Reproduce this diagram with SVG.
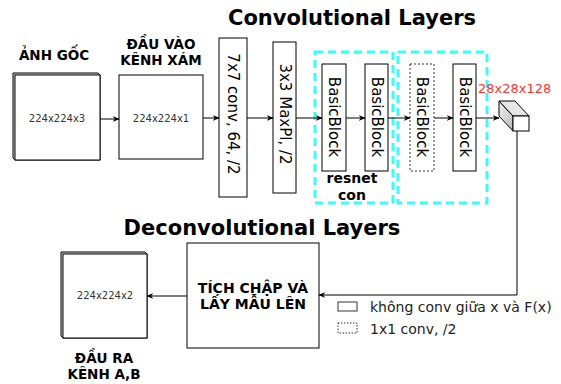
<svg xmlns="http://www.w3.org/2000/svg" width="561" height="384" viewBox="0 0 561 384">
<defs>
<marker id="arr" viewBox="0 0 10 10" refX="9" refY="5" markerWidth="7" markerHeight="7" markerUnits="userSpaceOnUse" orient="auto">
<path d="M0,1 L10,5 L0,9 L3,5 Z" fill="#000"/>
</marker>
<linearGradient id="side" x1="0" y1="0" x2="1" y2="1">
<stop offset="0" stop-color="#f2f2f2"/>
<stop offset="1" stop-color="#b8b8b8"/>
</linearGradient>
</defs>
<style>
text{font-family:"DejaVu Sans",Verdana,sans-serif;fill:#000}
.box{fill:#fff;stroke:#000;stroke-width:1}
.lbl{font-size:13.5px;font-weight:bold;text-anchor:middle}
.dim{font-size:10px;fill:#333;text-anchor:middle}
.rot{font-size:15px;text-anchor:middle;dominant-baseline:central}
.grp{fill:none;stroke:#33ffff;stroke-width:3;stroke-dasharray:8 5}
.edge{fill:none;stroke:#000;stroke-width:1}
.title{font-size:21px;font-weight:bold;text-anchor:middle}
.leg{font-size:14px;fill:#222}
</style>

<text class="title" x="352" y="25">Convolutional Layers</text>
<text class="title" x="262" y="235">Deconvolutional Layers</text>

<g id="anh-goc">
<path d="M13,73 L98,73 L100,75 L100,160 L15,160 L13,158 Z" fill="#ccc" stroke="#000" stroke-width="1"/>
<rect class="box" x="15" y="75" width="85" height="85"/>
<text class="lbl" x="54" y="60">ẢNH GỐC</text>
<text class="dim" x="57" y="122">224x224x3</text>
</g>

<g id="dau-vao">
<rect class="box" x="119" y="75" width="84" height="84"/>
<text class="lbl" x="161" y="49">ĐẦU VÀO</text>
<text class="lbl" x="161" y="65">KÊNH XÁM</text>
<text class="dim" x="161" y="122">224x224x1</text>
</g>

<g id="conv7">
<rect class="box" x="219" y="38" width="28" height="159"/>
<text class="rot" transform="translate(233,114) rotate(90)">7x7 conv, 64, /2</text>
</g>

<g id="maxpool">
<rect class="box" x="273" y="42" width="23" height="151"/>
<text class="rot" transform="translate(284.5,114) rotate(90)">3x3 MaxPl, /2</text>
</g>

<g id="resnet-group-1">
<rect class="grp" x="315" y="52" width="78" height="151"/>
<text class="lbl" x="352" y="183" style="font-size:14px">resnet</text>
<text class="lbl" x="352" y="200" style="font-size:14px">con</text>
</g>
<g id="resnet-group-2">
<rect class="grp" x="398" y="52" width="89" height="151"/>
</g>

<g id="bb1">
<rect class="box" x="322" y="64" width="24" height="107"/>
<text class="rot" transform="translate(334,117) rotate(90)">BasicBlock</text>
</g>
<g id="bb2">
<rect class="box" x="365" y="64" width="23" height="107"/>
<text class="rot" transform="translate(376.5,117) rotate(90)">BasicBlock</text>
</g>
<g id="bb3">
<rect x="410" y="64" width="24" height="107" fill="#fff" stroke="#333" stroke-width="1" stroke-dasharray="2 2"/>
<text class="rot" transform="translate(422,117) rotate(90)">BasicBlock</text>
</g>
<g id="bb4">
<rect class="box" x="453" y="64" width="23" height="107"/>
<text class="rot" transform="translate(464.5,117) rotate(90)">BasicBlock</text>
</g>

<g id="feature-cube">
<text x="478" y="93" style="font-size:13px;fill:#ff3333">28x28x128</text>
<path d="M499,101 L513,116 L513,131 L499,116 Z" fill="url(#side)" stroke="#000" stroke-width="1"/>
<path d="M499,101 L515,101 L529,116 L513,116 Z" fill="#e6e6e6" stroke="#000" stroke-width="1"/>
<rect class="box" x="513" y="116" width="16" height="15"/>
</g>

<g id="tich-chap">
<rect class="box" x="187" y="243" width="132" height="105"/>
<text class="lbl" x="253" y="293" style="font-size:14px">TÍCH CHẬP VÀ</text>
<text class="lbl" x="253" y="309" style="font-size:14px">LẤY MẪU LÊN</text>
</g>

<g id="dau-ra">
<path d="M61,252 L145,252 L147,254 L147,338 L63,338 L61,336 Z" fill="#ccc" stroke="#000" stroke-width="1"/>
<rect class="box" x="63" y="254" width="84" height="84"/>
<text class="dim" x="105" y="299">224x224x2</text>
<text class="lbl" x="104" y="363">ĐẦU RA</text>
<text class="lbl" x="104" y="379">KÊNH A,B</text>
</g>

<g id="legend">
<rect x="338" y="302" width="19" height="9" fill="#fff" stroke="#333" stroke-width="1"/>
<text class="leg" x="370" y="312">không conv giữa x và F(x)</text>
<rect x="338" y="323" width="19" height="10" fill="#fff" stroke="#333" stroke-width="1" stroke-dasharray="1.5 1.5"/>
<text class="leg" x="370" y="334">1x1 conv, /2</text>
</g>

<g id="connectors">
<line class="edge" x1="100" y1="119" x2="119" y2="119" marker-end="url(#arr)"/>
<line class="edge" x1="203" y1="118" x2="219" y2="118" marker-end="url(#arr)"/>
<line class="edge" x1="247" y1="118" x2="273" y2="118" marker-end="url(#arr)"/>
<line class="edge" x1="296" y1="118" x2="322" y2="118" marker-end="url(#arr)"/>
<line class="edge" x1="346" y1="118" x2="365" y2="118" marker-end="url(#arr)"/>
<line class="edge" x1="388" y1="118" x2="410" y2="118" marker-end="url(#arr)"/>
<line class="edge" x1="434" y1="118" x2="453" y2="118" marker-end="url(#arr)"/>
<line class="edge" x1="476" y1="118" x2="499" y2="118" marker-end="url(#arr)"/>
<path class="edge" d="M517,131 L517,295 L319,295" marker-end="url(#arr)"/>
<line class="edge" x1="187" y1="296" x2="147" y2="296" marker-end="url(#arr)"/>
</g>
</svg>
